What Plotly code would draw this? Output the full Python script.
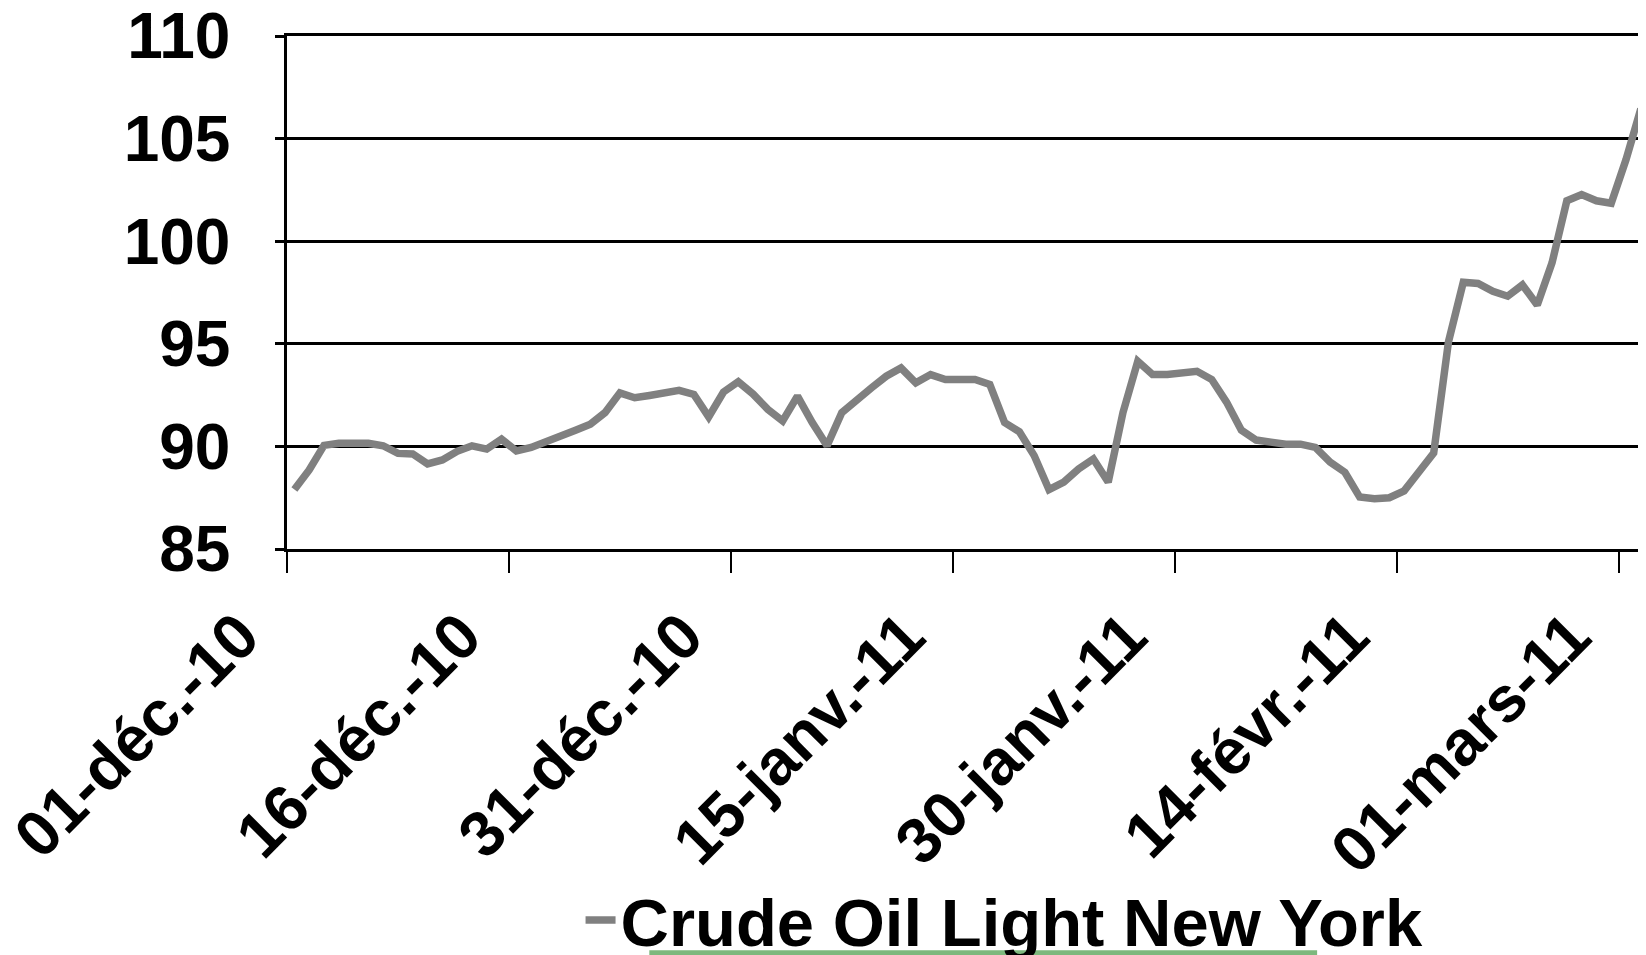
import pandas as pd
import plotly.graph_objects as go

# daily closes (01-dec-10 .. 02-mars-11)
start_date = '2010-12-01'
prices = [
    87.90, 88.85, 90.05, 90.15, 90.15, 90.15, 90.03, 89.66, 89.63, 89.15,
    89.34, 89.76, 90.03, 89.87, 90.35, 89.78, 89.95, 90.20, 90.50, 90.79,
    91.08, 91.65, 92.61, 92.37, 92.48, 92.61, 92.73, 92.53, 91.44, 92.65,
    93.15, 92.55, 91.80, 91.24, 92.45, 91.16, 90.03, 91.65, 92.29, 92.85,
    93.42, 93.82, 93.10, 93.50, 93.26, 93.26, 93.26, 93.02, 91.16, 90.71,
    89.55, 87.89, 88.26, 88.90, 89.39, 88.26, 91.65, 94.15, 93.50, 93.50,
    93.56, 93.66, 93.26, 92.16, 90.79, 90.31, 90.21, 90.11, 90.11, 89.95,
    89.23, 88.74, 87.53, 87.45, 87.50, 87.83, 88.75, 89.68, 95.10, 98.00,
    97.94, 97.56, 97.32, 97.87, 96.89, 98.95, 101.97, 102.27, 101.97, 101.85,
    103.98, 106.45,
]
tick_dates = ['2010-12-01', '2010-12-16', '2010-12-31', '2011-01-15',
              '2011-01-30', '2011-02-14', '2011-03-01']
tick_labels = ['01-déc.-10', '16-déc.-10', '31-déc.-10', '15-janv.-11',
               '30-janv.-11', '14-févr.-11', '01-mars-11']
series_name = 'Crude Oil Light New York'

# points sit in the middle of each day, like the excel date axis
dates = pd.date_range(pd.Timestamp(start_date) + pd.Timedelta(hours=12),
                      periods=len(prices), freq='D')
x_end = pd.Timestamp(start_date) + pd.Timedelta(days=91.85)

font = 'Liberation Sans, Arial, sans-serif'

fig = go.Figure()
fig.add_trace(go.Scatter(
    x=dates,
    y=prices,
    mode='lines',
    name=series_name,
    line=dict(color='#808080', width=7.5),
))

# page body keeps its 8px margin, so the figure is 8px smaller than the window
fig.update_layout(
    width=1638,
    height=947,
    margin=dict(l=279, r=0, t=28, b=406, autoexpand=False),
    paper_bgcolor='white',
    plot_bgcolor='white',
    font=dict(family=font, color='black'),
    showlegend=True,
    legend=dict(
        orientation='h',
        x=0.528, xanchor='center',
        y=-0.724, yanchor='middle',
        font=dict(family=font, size=67, weight='bold', color='black'),
        bgcolor='rgba(0,0,0,0)',
    ),
    # green strip at the bottom edge of the source picture
    shapes=[dict(
        type='rect', xref='paper', yref='paper',
        x0=0.2666, x1=0.758, y0=-0.792, y1=-0.782,
        fillcolor='#7db87d', line=dict(width=0), layer='below',
    )],
)

fig.update_xaxes(
    type='date',
    range=[pd.Timestamp(start_date), x_end],
    tickvals=tick_dates,
    ticktext=tick_labels,
    tickangle=-45,
    tickfont=dict(family=font, size=64, weight='bold', color='black'),
    ticks='outside',
    ticklen=21,
    tickwidth=2,
    tickcolor='black',
    ticklabelshift=-47,
    ticklabeloverflow='allow',
    automargin=False,
    showline=True,
    mirror=True,
    linecolor='black',
    linewidth=2.5,
    showgrid=False,
    zeroline=False,
)

fig.update_yaxes(
    range=[85, 110],
    dtick=5,
    tickfont=dict(family=font, size=64, weight='bold', color='black'),
    ticks='outside',
    ticklen=9,
    tickwidth=2.5,
    tickcolor='black',
    ticklabelstandoff=32,
    ticklabeloverflow='allow',
    automargin=False,
    showline=True,
    linecolor='black',
    linewidth=2.5,
    showgrid=True,
    gridcolor='black',
    gridwidth=2.5,
    zeroline=False,
)

fig.write_html('out.html')
